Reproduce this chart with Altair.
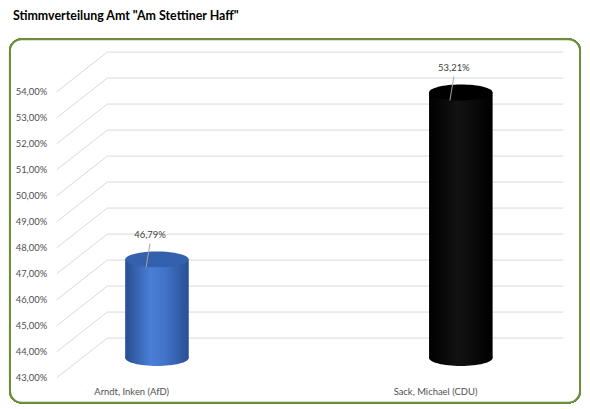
import altair as alt
import pandas as pd

# ---- data -------------------------------------------------------------
candidates = ["Arndt, Inken (AfD)", "Sack, Michael (CDU)"]
shares = [0.4679, 0.5321]
share_labels = ["46,79%", "53,21%"]
tick_values = [0.43, 0.44, 0.45, 0.46, 0.47, 0.48, 0.49, 0.50, 0.51, 0.52, 0.53, 0.54]
title_text = 'Stimmverteilung Amt "Am Stettiner Haff"'
base_value = 0.43

df = pd.DataFrame({"candidate": candidates, "share": shares, "label": share_labels,
                   "base": [base_value] * len(candidates)})
grid = pd.DataFrame({"v": tick_values})

# ---- layout -----------------------------------------------------------
W, H = 510, 288
DX, DY = 51, -40          # depth of the 3D floor
MX, MY = 26, -20          # mid depth (where the cylinders stand)
FONT = "Lato"

x_scale = alt.Scale(type="point", domain=candidates, range=[75, 381], padding=0)
y_scale = alt.Scale(domain=[0.43, 0.54], zero=False, nice=False)

x_axis = alt.Axis(title=None, domain=False, ticks=False, labelAngle=0, labelPadding=9,
                  labelFont=FONT, labelFontSize=9.5, labelColor="#505050", zindex=2)
y_axis = alt.Axis(title=None, domain=False, ticks=False, grid=False, values=tick_values,
                  labelExpr="replace(format(datum.value, '.2%'), '.', ',')",
                  labelPadding=10, labelFont=FONT, labelFontSize=9.5, labelColor="#505050",
                  zindex=2)


def xenc():
    return alt.X("candidate:N", scale=x_scale, axis=x_axis)


def yenc(field):
    return alt.Y(field, scale=y_scale, axis=y_axis)


ELLIPSE = ("M -1 0 C -1 -0.138 -0.552 -0.25 0 -0.25 C 0.552 -0.25 1 -0.138 1 0 "
           "C 1 0.138 0.552 0.25 0 0.25 C -0.552 0.25 -1 0.138 -1 0 Z")
CYL_W = 64

frame = alt.Chart(grid).mark_rect(cornerRadius=12, fill="white", stroke="#6b8e3b",
                                  strokeWidth=2).encode(
    x=alt.value(-47), x2=alt.value(527), y=alt.value(-53), y2=alt.value(313))

front_grid = alt.Chart(grid).mark_rule(color="#d9d9d9", strokeWidth=1, y2Offset=DY).encode(
    x=alt.value(0), x2=alt.value(DX), y=yenc("v:Q"), y2="v:Q")
back_grid = alt.Chart(grid).mark_rule(color="#d9d9d9", strokeWidth=1, yOffset=DY).encode(
    x=alt.value(DX), x2=alt.value(W), y=yenc("v:Q"))


def grad(stops):
    return alt.LinearGradient(gradient="linear", x1=0, x2=1, y1=0, y2=0,
                              stops=[alt.GradientStop(offset=o, color=c) for o, c in stops])


styles = {
    candidates[0]: (grad([(0, "#284d92"), (0.4, "#4a7fd5"), (0.6, "#4376cb"), (1, "#2a4f94")]),
                    "#3461ae"),
    candidates[1]: (grad([(0, "#000000"), (0.45, "#121212"), (1, "#000000")]), "#000000"),
}

cyl_layers = []
for cand in candidates:
    body_fill, top_fill = styles[cand]
    base = alt.Chart(df).transform_filter(alt.datum.candidate == cand)
    bottom = base.mark_point(shape=ELLIPSE, size=CYL_W * CYL_W, filled=True, fill=body_fill,
                             opacity=1, strokeWidth=0, xOffset=MX, yOffset=MY).encode(
        x=xenc(), y=yenc("base:Q"))
    body = base.mark_bar(width=CYL_W, fill=body_fill, xOffset=MX, yOffset=MY,
                         y2Offset=MY).encode(x=xenc(), y=yenc("share:Q"), y2="base:Q")
    top = base.mark_point(shape=ELLIPSE, size=CYL_W * CYL_W, filled=True, fill=top_fill,
                          opacity=1, strokeWidth=0, xOffset=MX, yOffset=MY).encode(
        x=xenc(), y=yenc("share:Q"))
    cyl_layers += [bottom, body, top]

leader = alt.Chart(df).mark_rule(color="#a6a6a6", strokeWidth=1, xOffset=MX - 7,
                                 x2Offset=MX - 11, yOffset=MY - 16, y2Offset=MY + 8).encode(
    x=xenc(), x2="candidate:N", y=yenc("share:Q"), y2="share:Q")
labels = alt.Chart(df).mark_text(font=FONT, fontSize=9.5, color="#404040", xOffset=MX - 7,
                                 yOffset=MY - 25).encode(
    x=xenc(), y=yenc("share:Q"), text="label:N")

chart = alt.layer(frame, front_grid, back_grid, *cyl_layers, leader, labels).properties(
    width=W, height=H,
    title=alt.Title(title_text, anchor="start", frame="group", dx=-44, offset=16,
                    font=FONT, fontSize=12.5, fontWeight="bold", color="#000000"),
    autosize=alt.AutoSizeParams(type="none"),
    padding={"left": 49, "top": 83, "right": 19, "bottom": 27},
).configure_view(stroke=None)

chart.save("out.html", embed_options={"renderer": "svg", "actions": False})
